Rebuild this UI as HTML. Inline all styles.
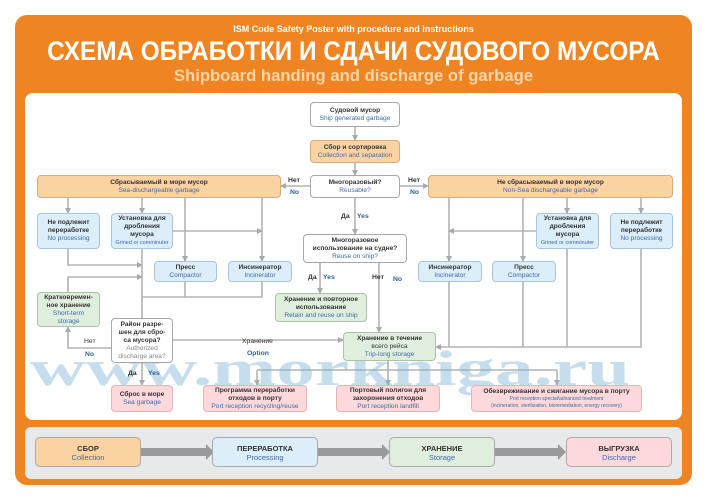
<!DOCTYPE html>
<html><head><meta charset="utf-8"><style>
*{margin:0;padding:0;box-sizing:border-box}
body{width:707px;height:500px;background:#fff;position:relative;overflow:hidden;font-family:"Liberation Sans",sans-serif}
.or{position:absolute;left:15px;top:15px;width:677px;height:470px;background:#ef8522;border-radius:12px}
.wp{position:absolute;left:25px;top:93px;width:657px;height:327px;background:#fff;border-radius:8px}
.gp{position:absolute;left:25px;top:427px;width:657px;height:52px;background:#e8e9ea;border-radius:6px}
.t1{position:absolute;left:0;width:707px;text-align:center;color:#fff;font-weight:bold}
.b{position:absolute;border:1px solid #a8a8a8;border-radius:4px;text-align:center;font-size:6.6px;line-height:8px;color:#333;font-weight:bold;display:flex;flex-direction:column;justify-content:center;background:#fff}
.b i{font-style:normal;font-weight:normal;color:#3f6aa8;display:block}
.o{background:#fbd3a3;border-color:#dca978}
.bl{background:#dbeefa;border-color:#a7c6dc}
.g{background:#e0efdd;border-color:#a8c6a4}
.p{background:#fdd9dc;border-color:#e5b4b7}
.lb{position:absolute;font-size:6.8px;font-weight:bold;color:#333}
.lb.e{color:#2f5f9e}
.bb{position:absolute;top:437px;height:30px;width:106px;border:1px solid #aaa;border-radius:5px;text-align:center;font-size:7.5px;line-height:9px;padding-top:6px;font-weight:bold;color:#333}
.bb i{font-style:normal;font-weight:normal;color:#3f6aa8;display:block}
</style></head><body>
<div class="or"></div>
<div class="t1" style="top:24px;font-size:9px">ISM Code Safety Poster with procedure and instructions</div>
<div class="t1" style="top:36px;font-size:27px;line-height:30px;transform:scaleX(.9)">СХЕМА ОБРАБОТКИ И СДАЧИ СУДОВОГО МУСОРА</div>
<div class="t1" style="top:66px;font-size:17px;color:#fdd5a8;transform:scaleX(.98)">Shipboard handing and discharge of garbage</div>
<div class="wp"></div>
<div class="gp"></div>

<svg style="position:absolute;left:0;top:0" width="707" height="500">
<defs><marker id="a" markerWidth="6" markerHeight="6" refX="5" refY="3" orient="auto" markerUnits="userSpaceOnUse"><path d="M0,0L6,3L0,6z" fill="#aaa"/></marker></defs>
<g stroke="#b3b3b3" stroke-width="1.6" fill="none" marker-end="url(#a)">
<path d="M355,127V140"/><path d="M355,163V175"/>
<path d="M310,186H281"/><path d="M400,186H428"/><path d="M355,198V234"/>
<path d="M68,198V213"/><path d="M142,198V213"/><path d="M185,198V261"/><path d="M262,198V261"/>
<path d="M173,231H262"/>
<path d="M68,249V265H142"/><path d="M68,292V277H142"/>
<path d="M111,348H68V327"/>
<path d="M173,340H343"/><path d="M142,363V385"/>
<path d="M320,263V293"/><path d="M379,263V332"/>
<path d="M449,198V261"/><path d="M523,198V261"/><path d="M567,198V213"/><path d="M641,198V213"/>
<path d="M536,231H449"/>
<path d="M641,249V347H436"/>
<path d="M388,361V385"/><path d="M257,370V385"/><path d="M557,370V385"/>
</g>
<g stroke="#b3b3b3" stroke-width="1.6" fill="none">
<path d="M142,249V318"/><path d="M185,282V297"/><path d="M262,282V297H142"/>
<path d="M449,282V347"/><path d="M523,282V347"/><path d="M567,249V347"/>
<path d="M257,370H557"/>
</g>
<g fill="#9a9a9a">
<path d="M141,448H206V444L214,452L206,460V456H141z"/>
<path d="M318,448H382V444L390,452L382,460V456H318z"/>
<path d="M495,448H558V444L566,452L558,460V456H495z"/>
</g>
<text x="30" y="385" font-family="Liberation Serif,serif" font-weight="bold" font-size="50" fill="#7fb6d6" opacity=".45" textLength="600" lengthAdjust="spacingAndGlyphs">www.morkniga.ru</text>
</svg>

<div class="b" style="left:310px;top:102px;width:90px;height:25px">Судовой мусор<i>Ship generated garbage</i></div>
<div class="b o" style="left:310px;top:140px;width:90px;height:23px">Сбор и сортировка<i>Collection and separation</i></div>
<div class="b" style="left:310px;top:175px;width:90px;height:23px">Многоразовый?<i>Reusable?</i></div>
<div class="b o" style="left:37px;top:175px;width:244px;height:23px">Сбрасываемый в море мусор<i>Sea-dischargeable garbage</i></div>
<div class="b o" style="left:428px;top:175px;width:245px;height:23px">Не сбрасываемый в море мусор<i>Non-Sea dischargeable garbage</i></div>
<div class="b bl" style="left:37px;top:213px;width:63px;height:36px">Не подлежит переработке<i>No processing</i></div>
<div class="b bl" style="left:111px;top:213px;width:62px;height:36px">Установка для дробления мусора<i style="font-size:5.5px">Grined or comminuter</i></div>
<div class="b bl" style="left:154px;top:261px;width:63px;height:21px">Пресс<i>Compactor</i></div>
<div class="b bl" style="left:228px;top:261px;width:64px;height:21px">Инсинератор<i>Incinerator</i></div>
<div class="b" style="left:303px;top:234px;width:104px;height:29px;padding:0 8px">Многоразовое использование на судне?<i>Reuse on ship?</i></div>
<div class="b g" style="left:275px;top:293px;width:92px;height:29px">Хранение и повторное использование<i>Retain and reuse on ship</i></div>
<div class="b g" style="left:37px;top:292px;width:63px;height:35px;padding:0 4px">Кратковремен-ное хранение<i>Short-term storage</i></div>
<div class="b" style="left:111px;top:318px;width:62px;height:45px;padding:0 3px">Район разре-шен для сбро-са мусора?<i style="color:#888">Authorized discharge area?</i></div>
<div class="b g" style="left:343px;top:332px;width:93px;height:29px">Хранение в течение<i style="color:#333">всего рейса</i><i>Trip-long storage</i></div>
<div class="b bl" style="left:418px;top:261px;width:64px;height:21px">Инсинератор<i>Incinerator</i></div>
<div class="b bl" style="left:492px;top:261px;width:64px;height:21px">Пресс<i>Compactor</i></div>
<div class="b bl" style="left:536px;top:213px;width:63px;height:36px">Установка для дробления мусора<i style="font-size:5.5px">Grined or comminuter</i></div>
<div class="b bl" style="left:610px;top:213px;width:63px;height:36px">Не подлежит переработке<i>No processing</i></div>
<div class="b p" style="left:111px;top:385px;width:62px;height:27px">Сброс в море<i>Sea garbage</i></div>
<div class="b p" style="left:203px;top:385px;width:104px;height:27px">Программа переработки отходов в порту<i>Port reception recycling/reuse</i></div>
<div class="b p" style="left:336px;top:385px;width:104px;height:27px">Портовый полигон для захоронения отходов<i>Port reception landfill</i></div>
<div class="b p" style="left:471px;top:385px;width:171px;height:27px">Обезвреживание и сжигание мусора в порту<i style="font-size:5px;line-height:7px">Port reception special/advanced treatment<br>(incineration, sterilization, bioremediation, energy recovery)</i></div>

<div class="lb" style="left:288px;top:177px">Нет</div><div class="lb e" style="left:290px;top:189px">No</div>
<div class="lb" style="left:408px;top:177px">Нет</div><div class="lb e" style="left:410px;top:189px">No</div>
<div class="lb" style="left:341px;top:213px">Да</div><div class="lb e" style="left:357px;top:213px">Yes</div>
<div class="lb" style="left:308px;top:274px">Да</div><div class="lb e" style="left:323px;top:274px">Yes</div>
<div class="lb" style="left:372px;top:274px">Нет</div><div class="lb e" style="left:393px;top:276px">No</div>
<div class="lb" style="left:84px;top:338px;font-weight:normal">Нет</div><div class="lb e" style="left:85px;top:351px">No</div>
<div class="lb" style="left:242px;top:338px;font-weight:normal">Хранение</div><div class="lb e" style="left:247px;top:350px">Option</div>
<div class="lb" style="left:128px;top:370px">Да</div><div class="lb e" style="left:148px;top:370px">Yes</div>

<div class="bb" style="left:35px;background:#fbd3a3">СБОР<i>Collection</i></div>
<div class="bb" style="left:212px;background:#dbeefa">ПЕРЕРАБОТКА<i>Processing</i></div>
<div class="bb" style="left:389px;background:#e0efdd">ХРАНЕНИЕ<i>Storage</i></div>
<div class="bb" style="left:566px;background:#fdd9dc">ВЫГРУЗКА<i>Discharge</i></div>
</body></html>
